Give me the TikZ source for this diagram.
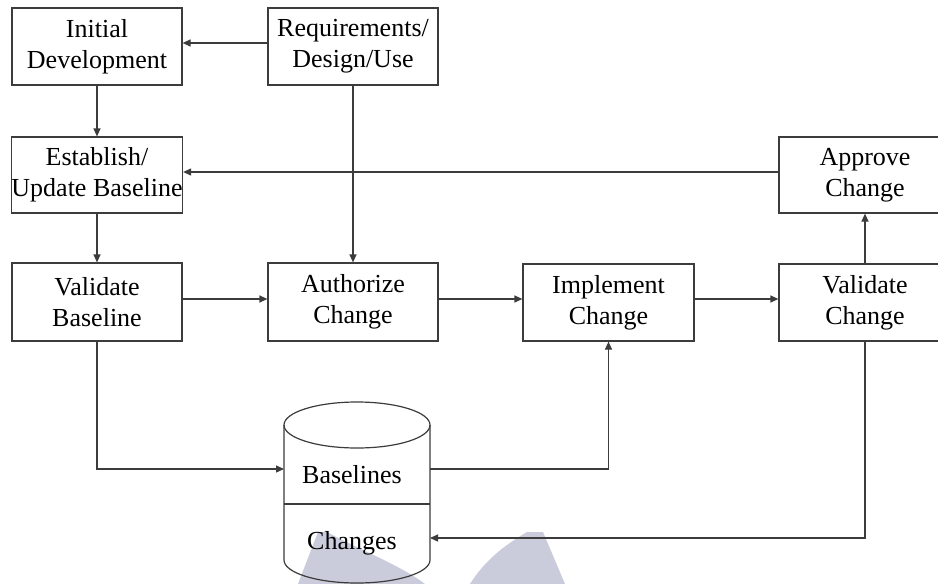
\documentclass[tikz,border=0pt]{standalone}
\usepackage{fontspec}
\setmainfont{Liberation Serif}
\usetikzlibrary{arrows.meta}
\definecolor{wm}{RGB}{202,204,220}
\definecolor{ln}{RGB}{60,60,60}
\tikzset{
  box/.style={draw=ln, line width=1.2pt, minimum width=170pt, minimum height=77pt,
    align=center, inner sep=0pt, font=\fontsize{26}{31}\selectfont},
  dbtext/.style={inner sep=0pt, font=\fontsize{26}{31}\selectfont},
  arr/.style={draw=ln, line width=1.2pt, -{Triangle[length=8pt,width=7pt]}},
  cyl/.style={draw=ln, line width=1.2pt}
}
\begin{document}
\begin{tikzpicture}[x=1pt,y=1pt]
\clip (0,0) rectangle (938,-584);
\fill[white] (0,0) rectangle (938,-584);
% watermark
\fill[wm] (318,-532) -- (327,-532) .. controls (360,-550) and (400,-565) .. (425,-584) -- (298,-584) -- cycle;
\fill[wm] (527,-532) -- (543,-532) -- (565,-584) -- (470,-584) .. controls (485,-560) and (505,-545) .. (527,-532) -- cycle;
% boxes
\node[box] (init) at (97,-46.5) {Initial\\Development};
\node[box] (req) at (353,-46.5) {Requirements/\\Design/Use};
\node[box, minimum height=76pt] (est) at (97,-175) {Establish/\\Update Baseline};
\node[box, minimum width=172pt, minimum height=76pt] (appr) at (865,-175) {Approve\\Change};
\node[box, minimum height=78pt] (valb) at (97,-302) {Validate\\Baseline};
\node[box, minimum height=78pt] (auth) at (353,-302) {Authorize\\Change};
\node[box, minimum width=171pt] (impl) at (608.5,-302.5) {Implement\\Change};
\node[box, minimum width=172pt] (valc) at (865,-302.5) {Validate\\Change};
% cylinder
\draw[cyl] (357,-425) ellipse [x radius=73, y radius=23];
\draw[cyl] (284,-425) -- (284,-560) arc[start angle=180, end angle=360, x radius=73, y radius=23] -- (430,-425);
\draw[cyl] (284,-504) -- (430,-504);
\node[dbtext] (bl) at (352,-475) {Baselines};
\node[dbtext] (ch) at (352,-543) {Changes};
\coordinate (dbin) at (284,-469);
\coordinate (dbout) at (430,-469);
\coordinate (dbch) at (430,-538);
% connectors
\draw[arr] ([yshift=3.5pt]req.west) -- ([yshift=3.5pt]init.east);
\draw[arr] (init.south) -- (est.north);
\draw[arr] ([yshift=3pt]appr.west) -- ([yshift=3pt]est.east);
\draw[arr] (req.south) -- (auth.north);
\draw[arr] (est.south) -- (valb.north);
\draw[arr] ([yshift=3pt]valb.east) -- ([yshift=3pt]auth.west);
\draw[arr] ([yshift=3pt]auth.east) -- ([yshift=3.5pt]impl.west);
\draw[arr] ([yshift=3.5pt]impl.east) -- ([yshift=3.5pt]valc.west);
\draw[arr] (valc.north) -- (appr.south);
\draw[arr] (valb.south) |- (dbin);
\draw[arr] (dbout) -| (impl.south);
\draw[arr] (valc.south) |- (dbch);
\end{tikzpicture}
\end{document}
